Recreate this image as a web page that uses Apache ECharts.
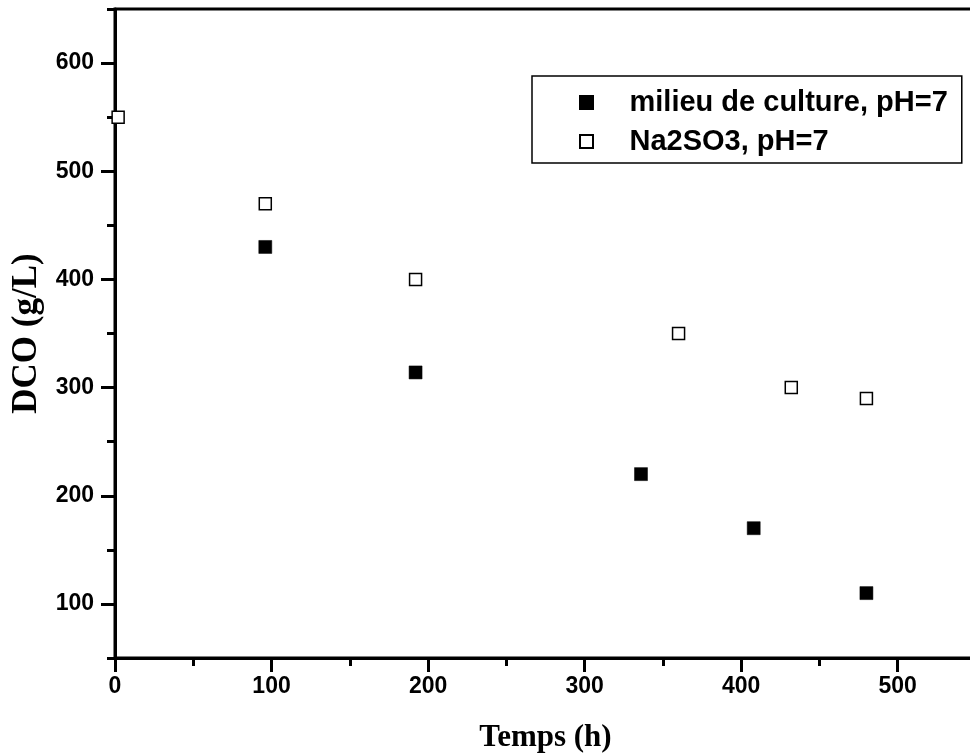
<!DOCTYPE html>
<html><head><meta charset="utf-8">
<script src="https://cdn.jsdelivr.net/npm/echarts@6/dist/echarts.min.js"></script>
<style>html,body{margin:0;padding:0;background:#fff}#c{width:970px;height:756px}</style>
</head><body><div id="c"></div>
<script>
const seriesNames = ['milieu de culture, pH=7', 'Na2SO3, pH=7'];
const timeMilieu = [96, 192, 336, 408, 480];
const dcoMilieu = [430, 314, 220, 170, 110];
const timeNa = [2, 96, 192, 360, 432, 480];
const dcoNa = [550, 470, 400, 350, 300, 290];
const xTickValues = [0, 100, 200, 300, 400, 500];
const yTickValues = [100, 200, 300, 400, 500, 600];
const xTitle = 'Temps (h)';
const yTitle = 'DCO (g/L)';

const sans = "'Liberation Sans', Arial, sans-serif";
const serif = "'Liberation Serif', 'Times New Roman', serif";
const pair = (xs, ys) => xs.map((x, i) => [x, ys[i]]);

const chart = echarts.init(document.getElementById('c'), null, {renderer: 'canvas'});
const tickStyle = {color: '#000', width: 3};
chart.setOption({
  animation: false,
  backgroundColor: '#fff',
  grid: {left: 115, top: 9, right: -6, bottom: 98, show: true, borderColor: '#000', borderWidth: 3,
         containLabel: false, outerBoundsMode: 'none'},
  legend: {
    orient: 'vertical', left: 532, top: 76, padding: [12, 14, 7, 47],
    borderColor: '#000', borderWidth: 1.5, backgroundColor: '#fff',
    itemWidth: 76, itemHeight: 13, itemGap: 10,
    icon: 'path://M0,0H10V10H0Z', symbolKeepAspect: true, selectedMode: false,
    textStyle: {fontFamily: sans, fontWeight: 'bold', fontSize: 29, color: '#000'},
    data: seriesNames
  },
  xAxis: [
    {type: 'value', position: 'bottom', min: 0, max: 550, interval: 50,
     axisLine: {show: true, onZero: false, lineStyle: {color: '#000', width: 3}},
     axisTick: {show: true, inside: false, length: 8, lineStyle: tickStyle},
     axisLabel: {customValues: xTickValues, margin: 17, fontFamily: sans, fontWeight: 'bold', fontSize: 23, color: '#000'},
     splitLine: {show: false},
     name: xTitle, nameLocation: 'middle', nameGap: 64,
     nameTextStyle: {fontFamily: serif, fontWeight: 'bold', fontSize: 31, color: '#000'}},
    {type: 'value', position: 'bottom', min: 0, max: 550, interval: 50,
     axisLine: {show: false, onZero: false},
     axisTick: {show: true, inside: false, length: 14, customValues: xTickValues, lineStyle: tickStyle},
     axisLabel: {show: false}, splitLine: {show: false}}
  ],
  yAxis: [
    {type: 'value', position: 'left', min: 50, max: 650, interval: 50,
     axisLine: {show: true, onZero: false, lineStyle: {color: '#000', width: 3}},
     axisTick: {show: true, inside: false, length: 8, lineStyle: tickStyle},
     axisLabel: {customValues: yTickValues, margin: 21, fontFamily: sans, fontWeight: 'bold', fontSize: 23, color: '#000'},
     splitLine: {show: false},
     name: yTitle, nameLocation: 'middle', nameGap: 71,
     nameTextStyle: {fontFamily: serif, fontWeight: 'bold', fontSize: 35, color: '#000'}},
    {type: 'value', position: 'left', min: 50, max: 650, interval: 50,
     axisLine: {show: false, onZero: false},
     axisTick: {show: true, inside: false, length: 14, customValues: yTickValues, lineStyle: tickStyle},
     axisLabel: {show: false}, splitLine: {show: false}}
  ],
  series: [
    {name: seriesNames[0], type: 'scatter', xAxisIndex: 0, yAxisIndex: 0,
     symbol: 'rect', symbolSize: 13,
     itemStyle: {color: '#000', borderColor: '#000', borderWidth: 0.5, opacity: 1},
     data: pair(timeMilieu, dcoMilieu)},
    {name: seriesNames[1], type: 'scatter', xAxisIndex: 0, yAxisIndex: 0,
     symbol: 'rect', symbolSize: 12,
     itemStyle: {color: '#fff', borderColor: '#000', borderWidth: 1.5, opacity: 1},
     data: pair(timeNa, dcoNa)}
  ]
});
</script></body></html>
